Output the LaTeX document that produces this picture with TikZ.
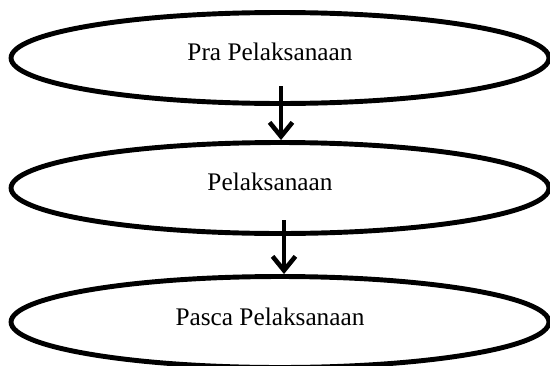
\documentclass[tikz,border=0pt]{standalone}
\usepackage{fontspec}
\setmainfont{Liberation Serif}
\usetikzlibrary{shapes.geometric,arrows.meta}

\tikzset{
  stage/.style={draw, ellipse, line width=2.8pt, inner sep=0pt,
    minimum width=10.76cm, minimum height=1.82cm},
  stagetext/.style={font=\fontsize{14.4}{17}\selectfont, inner sep=0pt},
  flow/.style={line width=2.6pt, -{Straight Barb[length=8pt,width=13pt]}}
}

\begin{document}
\begin{tikzpicture}[x=0.02cm, y=-0.02cm]
            \useasboundingbox (0,0) rectangle (550,365);

            \node[stage] (pra) at (280, 58) {};
            \node[stagetext] (pratext) at (270, 52) {Pra Pelaksanaan};

            \node[stage] (pel) at (280, 188) {};
            \node[stagetext] (peltext) at (270, 182) {Pelaksanaan};

            \node[stage] (pasca) at (280, 322) {};
            \node[stagetext] (pascatext) at (270, 317) {Pasca Pelaksanaan};

            \coordinate (a1) at (281, 86);
            \coordinate (a2) at (284, 220);
            \draw[flow] (a1) -- (a1 |- pel.north);
            \draw[flow] (a2) -- (a2 |- pasca.north);
        \end{tikzpicture}
\end{document}
